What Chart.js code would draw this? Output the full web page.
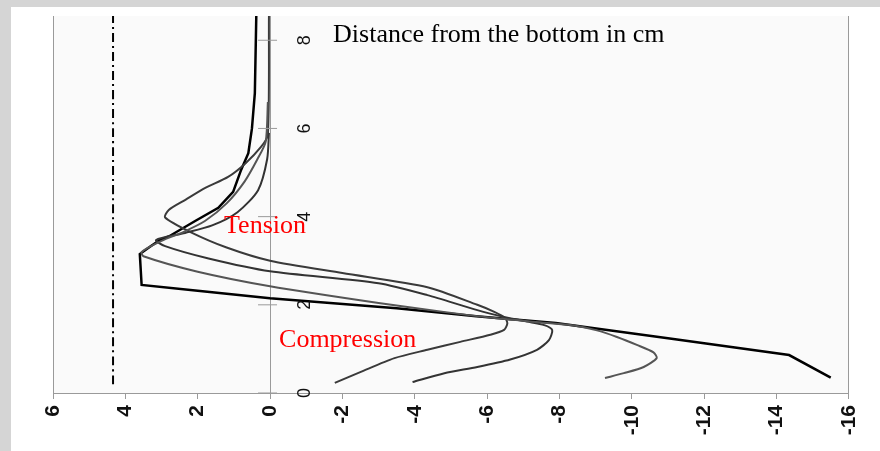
<!DOCTYPE html>
<html>
<head>
<meta charset="utf-8">
<script src="https://cdn.jsdelivr.net/npm/chart.js@4.4.1/dist/chart.umd.min.js"></script>
<style>
  html, body { margin: 0; padding: 0; background: #d5d5d5; }
  #panel { position: absolute; left: 11px; top: 7px; width: 869px; height: 444px; background: #fff; }
</style>
</head>
<body>
<div id="panel"><canvas id="stressGraph" width="869" height="444"></canvas></div>
<script>
// stress along x (positive = tension), distance from the bottom (cm) along y
var xTicks = [6, 4, 2, 0, -2, -4, -6, -8, -10, -12, -14, -16];
var yTicks = [0, 2, 4, 6, 8];

var curve1X = [-15.5, -14.35, -11, -7.9, -5.7, -3.5, 0, 2, 3.55, 3.6, 3.3, 3.05, 2.8, 2.07, 1.43, 1.02, 0.8, 0.6, 0.5, 0.42, 0.38];
var curve1Y = [0.35, 0.86, 1.24, 1.59, 1.74, 1.92, 2.15, 2.32, 2.45, 3.15, 3.33, 3.47, 3.55, 3.9, 4.2, 4.56, 5.06, 5.44, 6.0, 6.8, 8.55];

var curve2X = [-9.26, -9.78, -10.33, -10.69, -10.6, -10.14, -9.59, -9.04, -8.4, -7.5, -6.2, -4.8, -3, 0, 2, 3.5, 3.55, 3.0, 2.4, 1.8, 1.2, 0.7, 0.35, 0.12, 0.06];
var curve2Y = [0.34, 0.45, 0.59, 0.79, 0.92, 1.09, 1.27, 1.42, 1.53, 1.6, 1.7, 1.84, 2.04, 2.42, 2.75, 3.1, 3.2, 3.45, 3.65, 3.9, 4.3, 4.8, 5.3, 5.7, 6.6];

var curve3X = [-3.94, -4.82, -5.73, -6.64, -7.38, -7.71, -7.8, -7.58, -7.1, -6.5, -5.73, -4.35, -3, 0, 1.7, 2.9, 3.15, 2.35, 1.6, 0.9, 0.33, 0.08, 0.03];
var curve3Y = [0.25, 0.45, 0.59, 0.76, 0.98, 1.2, 1.43, 1.54, 1.62, 1.72, 1.88, 2.22, 2.49, 2.76, 3.05, 3.33, 3.47, 3.63, 3.8, 4.1, 4.6, 5.3, 5.9];

var curve4X = [-1.79, -2.51, -3.44, -4.35, -5.26, -6.09, -6.47, -6.56, -6.5, -6.2, -5.73, -4.35, -2, 0, 1.2, 2.2, 2.9, 2.8, 2.34, 1.79, 1.16, 0.69, 0.25, 0.06, 0.03];
var curve4Y = [0.23, 0.48, 0.79, 0.98, 1.16, 1.32, 1.43, 1.58, 1.7, 1.84, 2.0, 2.4, 2.72, 3.0, 3.3, 3.65, 3.98, 4.15, 4.38, 4.65, 4.9, 5.2, 5.58, 5.85, 8.55];

var limitX = [4.34, 4.34];
var limitY = [0.2, 8.55];

function toPoints(xs, ys) {
    var pts = [];
    for (var i = 0; i < xs.length; i++) pts.push({x: xs[i], y: ys[i]});
    return pts;
}

var labelsPlugin = {
    id: 'stressLabels',
    beforeDraw: function(chart) {
        var a = chart.chartArea, c = chart.ctx;
        c.save();
        c.fillStyle = '#fafafa';
        c.fillRect(a.left, a.top, a.right - a.left, a.bottom - a.top);
        c.restore();
    },
    afterDraw: function(chart) {
        var c = chart.ctx, xs = chart.scales.x, ys = chart.scales.y;
        var x0 = xs.getPixelForValue(0);
        c.save();
        // y axis tick marks and rotated labels
        c.strokeStyle = '#9a9a9a';
        c.lineWidth = 1;
        c.fillStyle = '#111';
        c.font = '18px "Liberation Sans"';
        c.textAlign = 'center';
        c.textBaseline = 'middle';
        yTicks.forEach(function(v) {
            var py = ys.getPixelForValue(v);
            c.beginPath();
            c.moveTo(x0 - 12, py);
            c.lineTo(x0 + 7, py);
            c.stroke();
            c.save();
            c.translate(x0 + 35, py);
            c.rotate(-Math.PI / 2);
            c.fillText(String(v), 0, 0);
            c.restore();
        });
        // titles
        c.textAlign = 'left';
        c.textBaseline = 'alphabetic';
        c.font = '26px "Liberation Serif"';
        c.fillStyle = '#000';
        c.fillText('Distance from the bottom in cm', x0 + 63, chart.chartArea.top + 26);
        c.fillStyle = '#ff0000';
        c.fillText('Tension', x0 - 46, ys.getPixelForValue(0) - 160);
        c.fillText('Compression', x0 + 9, ys.getPixelForValue(0) - 46);
        c.restore();
    }
};

var ctx = document.getElementById('stressGraph').getContext('2d');
new Chart(ctx, {
    type: 'scatter',
    data: {
        datasets: [
            { data: toPoints(limitX, limitY), borderColor: '#000', borderWidth: 2, borderDash: [9, 4, 2, 4] },
            { data: toPoints(curve2X, curve2Y), borderColor: '#555', borderWidth: 2 },
            { data: toPoints(curve3X, curve3Y), borderColor: '#333', borderWidth: 2 },
            { data: toPoints(curve4X, curve4Y), borderColor: '#3a3a3a', borderWidth: 2 },
            { data: toPoints(curve1X, curve1Y), borderColor: '#000', borderWidth: 2.5, tension: 0 }
        ]
    },
    options: {
        responsive: false,
        animation: false,
        devicePixelRatio: 1,
        layout: { padding: { left: 42, right: 27, top: 9, bottom: 0 } },
        showLine: true,
        elements: {
            point: { radius: 0 },
            line: { tension: 0.25, fill: false }
        },
        plugins: { legend: { display: false }, tooltip: { enabled: false } },
        scales: {
            x: {
                type: 'linear',
                reverse: true,
                min: -16,
                max: 6,
                afterBuildTicks: function(s) { s.ticks = xTicks.map(function(v) { return {value: v}; }); },
                afterFit: function(s) { s.height = 58; },
                ticks: {
                    autoSkip: false,
                    minRotation: 90,
                    maxRotation: 90,
                    padding: 6,
                    color: '#111',
                    font: { family: 'Liberation Sans', size: 21, weight: 'bold' }
                },
                grid: {
                    color: function(c) {
                        var v = c.tick ? c.tick.value : null;
                        return (v === 0 || v === 6 || v === -16) ? '#9a9a9a' : 'rgba(0,0,0,0)';
                    },
                    tickColor: '#9a9a9a',
                    tickLength: 6,
                    lineWidth: 1
                },
                border: { color: '#9a9a9a', width: 1 }
            },
            y: { display: false, min: 0, max: 8.55 }
        }
    },
    plugins: [labelsPlugin]
});
</script>
</body>
</html>
